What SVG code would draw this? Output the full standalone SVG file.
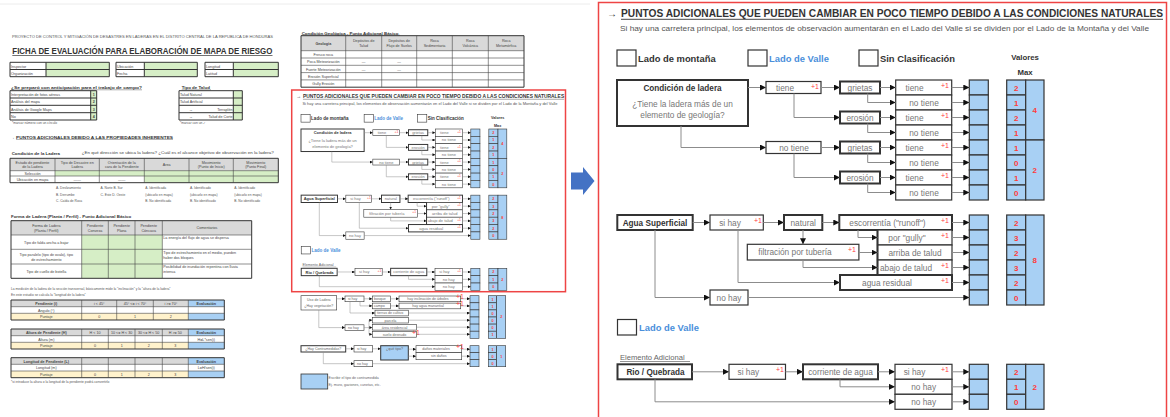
<svg xmlns="http://www.w3.org/2000/svg" xmlns:xlink="http://www.w3.org/1999/xlink" width="1170" height="417" viewBox="0 0 1170 417">
<defs>
<marker id="ah" viewBox="0 0 8 8" refX="8" refY="4" markerWidth="6" markerHeight="6" markerUnits="userSpaceOnUse" orient="auto"><path d="M0,0 L8,4 L0,8z" fill="#111"/></marker>
<marker id="ahs" viewBox="0 0 8 8" refX="8" refY="4" markerWidth="3" markerHeight="3" markerUnits="userSpaceOnUse" orient="auto"><path d="M0,0 L8,4 L0,8z" fill="#111"/></marker>
</defs>
<style>
.f{font-family:"Liberation Sans",Arial,sans-serif}
.b{font-weight:bold}
.c{text-anchor:middle}
.e{text-anchor:end}
.lbl{font-family:"Liberation Sans",Arial,sans-serif;font-size:8.3px;fill:#777}
.blbl{font-family:"Liberation Sans",Arial,sans-serif;font-size:8.2px;font-weight:bold;fill:#333}
.p1{font-family:"Liberation Sans",Arial,sans-serif;font-size:7px;fill:#ff3b3b}
.val{font-family:"Liberation Sans",Arial,sans-serif;font-size:8px;font-weight:bold;fill:#ff3b3b;text-anchor:middle}
.bx{fill:#fff;stroke:#333;stroke-width:1.2}
.bxt{fill:#fff;stroke:#333;stroke-width:2}
.blue{fill:#a8d0f4;stroke:#333;stroke-width:1.2}
.ln{fill:none;stroke:#8c8c8c;stroke-width:1;marker-end:url(#ah)}
.lns{fill:none;stroke:#8c8c8c;stroke-width:0.5;marker-end:url(#ahs)}
.d{font-family:"Liberation Sans",Arial,sans-serif;font-size:3.7px;fill:#444}
.ds{font-family:"Liberation Sans",Arial,sans-serif;font-size:3.3px;fill:#555}
.db{font-family:"Liberation Sans",Arial,sans-serif;font-size:4.4px;font-weight:bold;fill:#333}
.tb{fill:none;stroke:#444;stroke-width:0.6}
.tbt{fill:none;stroke:#333;stroke-width:1}
.grn{fill:#d6eec6}
.gry{fill:#d9d9d9}
.yel{fill:#fff2cc}
.lb{fill:#a8d0f4}
.sb{fill:#fff;stroke:#333;stroke-width:0.6}
.sbt{fill:#fff;stroke:#333;stroke-width:1}
.sbl{fill:#a8d0f4;stroke:#333;stroke-width:0.6}
.mv{font-family:"Liberation Sans",Arial,sans-serif;font-size:3.8px;font-weight:bold;fill:#ff3b3b;text-anchor:middle}
.ml{font-family:"Liberation Sans",Arial,sans-serif;font-size:3.6px;fill:#666}
.red{fill:none;stroke:#ee4444;stroke-width:1.5}
</style>
<rect width="1170" height="417" fill="#fff"/>
<line x1="0" y1="4" x2="590" y2="4" stroke="#ececec" stroke-width="1"/>

<!-- ============ LEFT DOCUMENT ============ -->
<g id="doc-header">
<text class="ds" x="12" y="38" textLength="261" lengthAdjust="spacingAndGlyphs">PROYECTO DE CONTROL Y MITIGACIÓN DE DESASTRES EN LADERAS EN EL DISTRITO CENTRAL DE LA REPÚBLICA DE HONDURAS</text>
<text class="f b" x="12.3" y="53.5" font-size="8.2" fill="#333" textLength="260" lengthAdjust="spacingAndGlyphs">FICHA DE EVALUACIÓN PARA ELABORACIÓN DE MAPA DE RIESGO</text>
<line x1="12.3" y1="55.5" x2="272.5" y2="55.5" stroke="#333" stroke-width="0.7"/>
</g>

<g id="info-1">
<rect class="grn" x="46" y="62.3" width="63.3" height="14.4"/>
<path class="tbt" d="M10 62.3H109.3V76.7H10Z M10 69.5H109.3 M46 62.3V76.7"/>
<text class="d" x="11" y="67.8">Inspector</text><text class="d" x="11" y="75">Organización</text>
</g>
<g id="info-2">
<rect class="grn" x="144.3" y="62.3" width="53" height="14.4"/>
<path class="tbt" d="M116 62.3H197.3V76.7H116Z M116 69.5H197.3 M144.3 62.3V76.7"/>
<text class="d" x="117" y="67.8">Ubicación</text><text class="d" x="117" y="75">Fecha</text>
</g>
<g id="info-3">
<rect class="grn" x="233.3" y="62.3" width="45" height="14.4"/>
<path class="tbt" d="M205 62.3H278.3V76.7H205Z M205 69.5H278.3 M233.3 62.3V76.7"/>
<text class="d" x="206" y="67.8">Longitud</text><text class="d" x="206" y="75">Latitud</text>
</g>

<g id="tabla-preparacion">
<text class="db" x="11" y="89" textLength="131" lengthAdjust="spacingAndGlyphs">¿Se preparó con anticipación para el trabajo de campo?</text>
<line x1="11" y1="89.8" x2="142" y2="89.8" stroke="#333" stroke-width="0.4"/>
<rect class="grn" x="90.7" y="90.7" width="6" height="29.3"/>
<path class="tbt" d="M10 90.7H96.7V120H10Z M10 98H96.7 M10 105.3H96.7 M10 112.7H96.7 M90.7 90.7V120"/>
<text class="d" x="11" y="96">Interpretación de fotos aéreas</text>
<text class="d" x="11" y="103.3">Análisis del mapa</text>
<text class="d" x="11" y="110.6">Análisis de Google Maps</text>
<text class="d" x="11" y="118">No</text>
<text class="d b c" x="93.7" y="96">1</text><text class="d b c" x="93.7" y="103.3">2</text><text class="d b c" x="93.7" y="110.6">3</text><text class="d b c" x="93.7" y="118">4</text>
<text class="ds" x="12" y="123.8">*marcar número con un círculo</text>
</g>

<g id="tabla-talud">
<text class="db" x="181.7" y="89">Tipo de Talud</text>
<line x1="181.7" y1="89.8" x2="211" y2="89.8" stroke="#333" stroke-width="0.4"/>
<rect class="grn" x="233.3" y="90.7" width="9" height="29.3"/>
<path class="tbt" d="M179 90.7H242.3V120H179Z M179 98H242.3 M179 105.3H242.3 M179 112.7H242.3 M233.3 90.7V120"/>
<text class="d" x="180" y="96">Talud Natural</text>
<text class="d" x="180" y="103.3">Talud Artificial</text>
<text class="d" x="189" y="110.6">→</text><text class="d e" x="232.5" y="110.6">Terraplén</text>
<text class="d" x="189" y="118">→</text><text class="d e" x="232.5" y="118">Talud de Corte</text>
<text class="ds" x="180" y="123.8">*marcar con un ✓</text>
</g>

<g id="titulo-inherentes">
<text class="db" x="10" y="138.5" textLength="163" lengthAdjust="spacingAndGlyphs">→ PUNTOS ADICIONALES DEBIDO A LAS PROPIEDADES INHERENTES</text>
<line x1="16" y1="139.4" x2="173" y2="139.4" stroke="#333" stroke-width="0.4"/>
</g>

<g id="tabla-condicion">
<text class="db" x="11.7" y="154.5">Condición de la Ladera</text>
<text class="d" x="81.7" y="154.3" textLength="192" lengthAdjust="spacingAndGlyphs">¿En qué dirección se ubica la ladera? ¿Cuál es el alcance objetivo de observación en la ladera?</text>
<rect class="gry" x="10" y="158.3" width="268.3" height="12.4"/>
<rect class="grn" x="55" y="170.7" width="223.3" height="5.3"/>
<rect class="grn" x="144.3" y="176" width="134" height="6.7"/>
<path class="tbt" d="M10 158.3H278.3V182.7H10Z"/>
<path class="tb" d="M10 170.7H278.3 M10 176H278.3 M55 158.3V182.7 M99.3 158.3V182.7 M144.3 158.3V182.7 M189 158.3V182.7 M233.3 158.3V182.7"/>
<text class="d c" x="32.5" y="163.8">Estado de pendiente</text><text class="d c" x="32.5" y="168.4">de la Ladera</text>
<text class="d c" x="77.2" y="163.8">Tipo de Desastre en</text><text class="d c" x="77.2" y="168.4">Ladera</text>
<text class="d c" x="121.8" y="163.8">Orientación de la</text><text class="d c" x="121.8" y="168.4">cara de la Pendiente</text>
<text class="d c" x="166.7" y="166">Área</text>
<text class="d c" x="211.2" y="163.8">Movimiento</text><text class="d c" x="211.2" y="168.4">(Punto de Inicio)</text>
<text class="d c" x="255.8" y="163.8">Movimiento</text><text class="d c" x="255.8" y="168.4">(Punto Final)</text>
<text class="d c" x="32.5" y="174.8">Selección</text>
<text class="d c" x="32.5" y="180.8">Ubicación en mapa</text>
<text class="d c" x="77.2" y="180.8">——</text><text class="d c" x="121.8" y="180.8">——</text>
<g class="ds">
<text x="56" y="189.3">A. Deslizamiento</text><text x="56" y="195.6">B. Derrumbe</text><text x="56" y="202">C. Caída de Roca</text>
<text x="100.5" y="189.3">A. Norte  B. Sur</text><text x="100.5" y="195.6">C. Este   D. Oeste</text>
<text x="145.3" y="189.3">A. Identificada</text><text x="145.3" y="195.6">(ubicarlo en mapa)</text><text x="145.3" y="202">B. No identificada</text>
<text x="190" y="189.3">A. Identificado</text><text x="190" y="195.6">(ubicarlo en mapa)</text><text x="190" y="202">B. No identificado</text>
<text x="234.3" y="189.3">A. Identificado</text><text x="234.3" y="195.6">(ubicarlo en mapa)</text><text x="234.3" y="202">B. No identificado</text>
</g>
</g>

<g id="tabla-forma">
<text class="db" x="11" y="218">Forma de Ladera (Planta / Perfil) - Punto Adicional Básico</text>
<rect class="gry" x="11" y="220.7" width="240.7" height="14.3"/>
<rect class="grn" x="81.7" y="235" width="80.6" height="43.3"/>
<path class="tbt" d="M11 220.7H251.7V278.3H11Z"/>
<path class="tb" d="M11 235H251.7 M11 249.3H251.7 M11 264H251.7 M81.7 220.7V278.3 M108.3 220.7V278.3 M135 220.7V278.3 M162.3 220.7V278.3"/>
<text class="d c" x="46.3" y="226.5">Forma de Ladera</text><text class="d c" x="46.3" y="232">(Planta / Perfil)</text>
<text class="d c" x="95" y="226.5">Pendiente</text><text class="d c" x="95" y="232">Convexa</text>
<text class="d c" x="121.7" y="226.5">Pendiente</text><text class="d c" x="121.7" y="232">Plana</text>
<text class="d c" x="148.7" y="226.5">Pendiente</text><text class="d c" x="148.7" y="232">Cóncava</text>
<text class="d c" x="207" y="229.3">Comentarios</text>
<text class="d c" x="46.3" y="243.5">Tipo de falda ancha a bajar</text>
<text class="d c" x="46.3" y="255.5">Tipo paralelo (tipo de ovalo), tipo</text><text class="d c" x="46.3" y="260.5">de estrechamiento</text>
<text class="d c" x="46.3" y="272.5">Tipo de cuello de botella</text>
<text class="d" x="163.3" y="239">La energía del flujo de agua se dispersa</text>
<text class="d" x="163.3" y="253.5">Tipo de estrechamiento en el medio, pueden</text><text class="d" x="163.3" y="258.5">haber dos bloques</text>
<text class="d" x="163.3" y="268">Posibilidad de inundación repentina con lluvia</text><text class="d" x="163.3" y="273">intensa</text>
</g>

<g id="nota-medicion">
<text class="ds" x="11" y="289.5">La medición de la ladera de la sección transversal, básicamente mide la "inclinación" y la "altura de la ladera"</text>
<text class="ds" x="11" y="295.5">En este estudio se calcula la "longitud de la ladera"</text>
</g>

<g id="tabla-pendiente">
<rect class="gry" x="11" y="300" width="177.3" height="6.7"/>
<rect class="lb" x="188.3" y="300" width="36" height="6.7"/>
<rect class="yel" x="11" y="313.3" width="177.3" height="6.7"/>
<rect class="lb" x="188.3" y="313.3" width="36" height="6.7"/>
<path class="tbt" d="M11 300H224.3V320H11Z"/>
<path class="tb" d="M11 306.7H224.3 M11 313.3H224.3 M81.7 300V320 M116.7 300V320 M153.3 300V320 M188.3 300V320"/>
<text class="d b c" x="46.3" y="305">Pendiente (i)</text>
<text class="d c" x="99.2" y="305">i &lt; 45°</text><text class="d c" x="135" y="305">45° &lt;= i &lt; 70°</text><text class="d c" x="170.8" y="305">i &gt;= 70°</text>
<text class="d b c" x="206.3" y="305">Evaluación</text>
<text class="d c" x="46.3" y="311.7">Ángulo (°)</text>
<text class="d c" x="46.3" y="318.3">Puntaje</text>
<text class="d c" x="99.2" y="318.3">0</text><text class="d c" x="135" y="318.3">1</text><text class="d c" x="170.8" y="318.3">2</text>
</g>

<g id="tabla-altura">
<rect class="gry" x="11" y="329" width="177.3" height="6.7"/>
<rect class="lb" x="188.3" y="329" width="36" height="6.7"/>
<rect class="yel" x="11" y="342.3" width="177.3" height="6.7"/>
<rect class="lb" x="188.3" y="342.3" width="36" height="6.7"/>
<path class="tbt" d="M11 329H224.3V349H11Z"/>
<path class="tb" d="M11 335.7H224.3 M11 342.3H224.3 M81.7 329V349 M108.3 329V349 M135 329V349 M162.3 329V349 M188.3 329V349"/>
<text class="d b c" x="46.3" y="334">Altura de Pendiente (H)</text>
<text class="d c" x="95" y="334">H &lt; 10</text><text class="d c" x="121.7" y="334">10 &lt;= H &lt; 30</text><text class="d c" x="148.7" y="334">30 &lt;= H &lt; 50</text><text class="d c" x="175.3" y="334">H &gt;= 50</text>
<text class="d b c" x="206.3" y="334">Evaluación</text>
<text class="d c" x="46.3" y="340.7">Altura (m)</text><text class="d c" x="206.3" y="340.7">H=L*sen(i)</text>
<text class="d c" x="46.3" y="347.3">Puntaje</text>
<text class="d c" x="95" y="347.3">0</text><text class="d c" x="121.7" y="347.3">1</text><text class="d c" x="148.7" y="347.3">2</text><text class="d c" x="175.3" y="347.3">3</text>
</g>

<g id="tabla-longitud">
<rect class="gry" x="11" y="357.7" width="177.3" height="6.6"/>
<rect class="lb" x="188.3" y="357.7" width="36" height="6.6"/>
<rect class="yel" x="11" y="371" width="177.3" height="6.7"/>
<rect class="lb" x="188.3" y="371" width="36" height="6.7"/>
<path class="tbt" d="M11 357.7H224.3V377.7H11Z"/>
<path class="tb" d="M11 364.3H224.3 M11 371H224.3 M81.7 357.7V377.7 M108.3 357.7V377.7 M135 357.7V377.7 M162.3 357.7V377.7 M188.3 357.7V377.7"/>
<text class="d b c" x="46.3" y="362.6">Longitud de Pendiente (L)</text>
<text class="d b c" x="206.3" y="362.6">Evaluación</text>
<text class="d c" x="46.3" y="369.3">Longitud (m)</text><text class="d c" x="206.3" y="369.3">L=H/sen(i)</text>
<text class="d c" x="46.3" y="376">Puntaje</text>
<text class="d c" x="95" y="376">0</text><text class="d c" x="121.7" y="376">1</text><text class="d c" x="148.7" y="376">2</text><text class="d c" x="175.3" y="376">3</text>
<text class="ds" x="11" y="383.2">*si introduce la altura o la longitud de la pendiente podrá convertirlo</text>
</g>

<g id="tabla-geologia">
<text class="db" x="301.7" y="34.5">Condición Geológica - Punto Adicional Básico</text>
<line x1="301.7" y1="35.2" x2="400" y2="35.2" stroke="#333" stroke-width="0.4"/>
<rect class="gry" x="301" y="35.7" width="223" height="15"/>
<path class="tbt" d="M301 35.7H524V87.2H301Z"/>
<path class="tb" d="M301 50.7H524 M301 58H524 M301 65.3H524 M301 72.6H524 M301 79.9H524 M345.7 35.7V87.2 M381.7 35.7V87.2 M416.7 35.7V87.2 M452.3 35.7V87.2 M488.3 35.7V87.2"/>
<text class="d b c" x="323.3" y="44.5">Geología</text>
<text class="d c" x="363.7" y="41.8">Depósitos de</text><text class="d c" x="363.7" y="47">Talud</text>
<text class="d c" x="399.2" y="41.8">Depósitos de</text><text class="d c" x="399.2" y="47">Flujo de Suelos</text>
<text class="d c" x="434.5" y="41.8">Roca</text><text class="d c" x="434.5" y="47">Sedimentaria</text>
<text class="d c" x="470.3" y="41.8">Roca</text><text class="d c" x="470.3" y="47">Volcánica</text>
<text class="d c" x="506.2" y="41.8">Roca</text><text class="d c" x="506.2" y="47">Metamórfica</text>
<text class="d c" x="323.3" y="56">Fresco roca</text>
<text class="d c" x="323.3" y="63.3">Poca Meteorización</text>
<text class="d c" x="323.3" y="70.6">Fuerte Meteorización</text>
<text class="d c" x="323.3" y="77.9">Erosión Superficial</text>
<text class="d c" x="323.3" y="85.2">Gully Erosión</text>
<text class="d c" x="363.7" y="63.3">—</text><text class="d c" x="399.2" y="63.3">—</text>
<text class="d c" x="363.7" y="70.6">—</text><text class="d c" x="399.2" y="70.6">—</text>
</g>

<!-- mini copy of the detailed panel -->
<use id="panel-miniatura" xlink:href="#rpanel" href="#rpanel" transform="matrix(0.482,0,0,0.49,3.6,89.8)"/>
<rect id="recuadro-rojo-mini" class="red" x="291.7" y="90" width="273.8" height="201.7"/>

<g id="uso-ladera">
<g id="n-uso"><rect class="sb" x="301" y="295.7" width="35.7" height="14.3"/><text class="ml c" x="318.8" y="300.5">Uso de Ladera</text><text class="ml c" x="318.8" y="307.3">¿Hay vegetación?</text></g>
<g id="n-uso-si"><rect class="sb" x="345" y="296" width="19" height="5.7"/><text class="ml" x="348" y="300.2">si hay</text></g>
<g id="n-uso-no"><rect class="sb" x="345" y="324.8" width="19" height="5.7"/><text class="ml" x="348" y="329">no hay</text></g>
<g id="n-bosque"><rect class="sb" x="372.3" y="296" width="18.4" height="5.7"/><text class="ml" x="374" y="300.2">bosque</text></g>
<g id="n-campo"><rect class="sb" x="372.3" y="303.1" width="18.4" height="5.7"/><text class="ml" x="374" y="307.3">campo</text></g>
<g id="n-cultivo"><rect class="sb" x="375" y="310.2" width="33.3" height="5.7"/><text class="ml" x="377" y="314.4">tierras de cultivo</text></g>
<g id="n-parcela"><rect class="sb" x="372.3" y="317.3" width="36" height="5.7"/><text class="ml c" x="390.3" y="321.5">parcela</text></g>
<g id="n-residencial"><rect class="sb" x="372.3" y="324.4" width="44.4" height="5.7"/><text class="ml c" x="394.5" y="328.6">área residencial</text></g>
<g id="n-desnudo"><rect class="sb" x="372.3" y="331.5" width="44.4" height="5.7"/><text class="ml c" x="394.5" y="335.7">suelo desnudo</text><text class="p1" x="412" y="334.5" font-size="3.4">+1</text></g>
<g id="n-inclinacion"><rect class="sb" x="399" y="296" width="61.7" height="5.7"/><text class="ml c" x="428" y="300.2">hay inclinación de árboles</text><text class="p1" x="456" y="299" font-size="3.4">+1</text></g>
<g id="n-manantial"><rect class="sb" x="399" y="303.1" width="61.7" height="5.7"/><text class="ml c" x="428" y="307.3">hay agua manantial</text><text class="p1" x="456" y="306.1" font-size="3.4">+1</text></g>
<g id="v-uso">
<rect class="sbl" x="470" y="295.7" width="9" height="7.1"/><rect class="sbl" x="470" y="302.8" width="9" height="7.1"/><rect class="sbl" x="470" y="309.9" width="9" height="7.1"/><rect class="sbl" x="470" y="317" width="9" height="7.1"/><rect class="sbl" x="470" y="324.1" width="9" height="7.1"/><rect class="sbl" x="470" y="331.2" width="9" height="7.1"/>
<rect class="sbl" x="488.3" y="295.7" width="8.4" height="7.1"/><rect class="sbl" x="488.3" y="302.8" width="8.4" height="7.1"/><rect class="sbl" x="488.3" y="309.9" width="8.4" height="7.1"/><rect class="sbl" x="488.3" y="317" width="8.4" height="7.1"/><rect class="sbl" x="488.3" y="324.1" width="8.4" height="7.1"/><rect class="sbl" x="488.3" y="331.2" width="8.4" height="7.1"/>
<rect class="sbl" x="496.7" y="295.7" width="9" height="42.6"/>
<text class="mv" x="492.5" y="300.6">1</text><text class="mv" x="492.5" y="307.7">1</text><text class="mv" x="492.5" y="314.8">0</text><text class="mv" x="492.5" y="321.9">0</text><text class="mv" x="492.5" y="329">0</text><text class="mv" x="492.5" y="336.1">1</text>
<text class="mv" x="501.2" y="318.3">2</text>
</g>
</g>

<g id="contramedidas">
<g id="n-contra"><rect class="sbt" x="301" y="345.7" width="44.7" height="6.3"/><text class="ml c" x="323.3" y="350">¿Hay Contramedidas?</text></g>
<g id="n-contra-si"><rect class="sb" x="354" y="345.7" width="18.7" height="6.3"/><text class="ml" x="357" y="350">si hay</text></g>
<g id="n-tipo"><rect x="380.7" y="345.7" width="27.6" height="14.3" fill="#a8d0f4" stroke="#333" stroke-width="1"/><text class="ml c" x="394.5" y="350" fill="#333">¿qué tipo?</text></g>
<g id="n-danos"><rect class="sb" x="416" y="345.7" width="45.7" height="7"/><text class="ml c" x="436" y="350.3">daños materiales</text><text class="p1" x="456" y="349" font-size="3.4">+1</text></g>
<g id="n-sindanos"><rect class="sb" x="416" y="352.7" width="45.7" height="7"/><text class="ml c" x="438.8" y="357.3">sin daños</text></g>
<g id="n-contra-no"><rect class="sb" x="354" y="360.7" width="18.7" height="6"/><text class="ml" x="357" y="364.9">no hay</text></g>
<g id="v-contra">
<rect class="sbl" x="470" y="345.7" width="9" height="7"/><rect class="sbl" x="470" y="352.7" width="9" height="7"/><rect class="sbl" x="470" y="359.7" width="9" height="7"/>
<rect class="sbl" x="488.3" y="345.7" width="8.4" height="7"/><rect class="sbl" x="488.3" y="352.7" width="8.4" height="7"/><rect class="sbl" x="488.3" y="359.7" width="8.4" height="7"/>
<rect class="sbl" x="496.7" y="345.7" width="9" height="21"/>
<text class="mv" x="492.5" y="350.5">1</text><text class="mv" x="492.5" y="357.5">0</text><text class="mv" x="492.5" y="364.5">0</text>
<text class="mv" x="501.2" y="357.5">1</text>
</g>
</g>

<g id="leyenda-contramedida">
<rect x="301" y="374" width="26.7" height="15" fill="#a8d0f4" stroke="#333" stroke-width="0.8"/>
<text class="ml" x="328.5" y="378.8">Escribir el tipo de contramedida</text>
<text class="ml" x="328.5" y="386.2">Ej. muro, gaviones, cunetas, etc.</text>
</g>

<g id="connectors-mini">
<path class="lns" d="M336.7 298.8H345"/>
<path class="lns" d="M364 298.8H372.3"/>
<path class="lns" d="M360 301.7V305.9H372.3"/>
<path class="lns" d="M350 301.7V313H375"/>
<path class="lns" d="M318.8 310V327.6H345"/>
<path class="lns" d="M364 327.6H372.3"/>
<path class="lns" d="M369 327.6V320.2H372.3"/>
<path class="lns" d="M369 327.6V334.3H372.3"/>
<path class="lns" d="M390.7 298.8H399"/>
<path class="lns" d="M390.7 305.9H399"/>
<path class="lns" d="M460.7 298.8H470"/><path class="lns" d="M460.7 305.9H470"/><path class="lns" d="M408.3 313H470"/><path class="lns" d="M408.3 320.2H470"/><path class="lns" d="M416.7 327.2H470"/><path class="lns" d="M416.7 334.3H470"/>
<path class="lns" d="M345.7 348.8H354"/>
<path class="lns" d="M372.7 348.8H380.7"/>
<path class="lns" d="M408.3 349.2H416"/>
<path class="lns" d="M408.3 356.2H416"/>
<path class="lns" d="M461.7 349.2H470"/><path class="lns" d="M461.7 356.2H470"/>
<path class="lns" d="M323.3 352V363.7H354"/>
<path class="lns" d="M372.7 363.7H470"/>
</g>

<!-- blue arrow -->
<polygon id="flecha-azul" points="571,172.5 583,172.5 583,167 594.5,181 583,195 583,189.5 571,189.5" fill="#4472c4"/>

<!-- ============ DETAILED PANEL ============ -->
<rect id="recuadro-rojo" class="red" x="598.5" y="2.5" width="568" height="430"/>
<g id="rpanel">
<g id="titulo">
<text class="f b" x="607" y="17" font-size="10" fill="#333">→</text>
<text class="f b" x="621" y="17" font-size="10" fill="#333" textLength="542" lengthAdjust="spacingAndGlyphs">PUNTOS ADICIONALES QUE PUEDEN CAMBIAR EN POCO TIEMPO DEBIDO A LAS CONDICIONES NATURALES</text>
<line x1="621" y1="19.3" x2="1163" y2="19.3" stroke="#333" stroke-width="0.9"/>
<text class="f" x="620" y="31" font-size="8" fill="#555" textLength="529" lengthAdjust="spacingAndGlyphs">Si hay una carretera principal, los elementos de observación aumentarán en el Lado del Valle si se dividen por el Lado de la Montaña y del Valle</text>
</g>
<g id="leg-montana"><rect class="bx" x="617" y="50" width="19" height="16"/><text class="f b" x="638" y="62" font-size="9.4" fill="#333">Lado de montaña</text></g>
<g id="leg-valle"><rect class="bx" x="748" y="50" width="19" height="16"/><text class="f b" x="769" y="62" font-size="9.4" fill="#4a8fdb">Lado de Valle</text></g>
<g id="leg-sin"><rect class="bx" x="859" y="50" width="19" height="16"/><text class="f b" x="880" y="62" font-size="9.4" fill="#333">Sin Clasificación</text></g>
<g id="hdr-valores"><text class="f b c" x="1025" y="60" font-size="7.8" fill="#333">Valores</text><text class="f b c" x="1025" y="75" font-size="7.8" fill="#333">Max</text></g>

<g id="n-condicion"><rect class="bxt" x="617" y="80" width="131" height="46"/>
<text class="blbl c" x="682.5" y="91">Condición de ladera</text>
<text class="lbl c" x="682.5" y="107">¿Tiene la ladera más de un</text>
<text class="lbl c" x="682.5" y="118">elemento de geología?</text></g>
<g id="n-tiene"><rect class="bx" x="766" y="81.5" width="55" height="12"/><text class="lbl c" x="785" y="90.8">tiene</text><text class="p1" x="811" y="88.5">+1</text></g>
<g id="n-notiene"><rect class="bx" x="766" y="141.5" width="55" height="12"/><text class="lbl c" x="794" y="150.8">no tiene</text></g>
<g id="n-grietas1"><rect class="bxt" x="840" y="81.5" width="40" height="12"/><text class="lbl c" x="860" y="90.8">grietas</text></g>
<g id="n-erosion1"><rect class="bxt" x="840" y="111.5" width="40" height="12"/><text class="lbl c" x="860" y="120.8">erosión</text></g>
<g id="n-grietas2"><rect class="bxt" x="840" y="141.5" width="40" height="12"/><text class="lbl c" x="860" y="150.8">grietas</text></g>
<g id="n-erosion2"><rect class="bxt" x="840" y="171.5" width="40" height="12"/><text class="lbl c" x="860" y="180.8">erosión</text></g>

<g id="n-opciones-ladera">
<rect class="bx" x="895.7" y="80" width="56" height="15"/><text class="lbl c" x="914.5" y="90.5">tiene</text><text class="p1" x="941" y="88">+1</text>
<rect class="bx" x="895.7" y="95" width="56" height="15"/><text class="lbl c" x="924" y="105.5">no tiene</text>
<rect class="bx" x="895.7" y="110" width="56" height="15"/><text class="lbl c" x="914.5" y="120.5">tiene</text><text class="p1" x="941" y="118">+1</text>
<rect class="bx" x="895.7" y="125" width="56" height="15"/><text class="lbl c" x="924" y="135.5">no tiene</text>
<rect class="bx" x="895.7" y="140" width="56" height="15"/><text class="lbl c" x="914.5" y="150.5">tiene</text><text class="p1" x="941" y="148">+1</text>
<rect class="bx" x="895.7" y="155" width="56" height="15"/><text class="lbl c" x="924" y="165.5">no tiene</text>
<rect class="bx" x="895.7" y="170" width="56" height="15"/><text class="lbl c" x="914.5" y="180.5">tiene</text><text class="p1" x="941" y="178">+1</text>
<rect class="bx" x="895.7" y="185" width="56" height="15"/><text class="lbl c" x="924" y="195.5">no tiene</text>
</g>
<g id="celdas-ladera">
<rect class="blue" x="969.3" y="80" width="19" height="15"/><rect class="blue" x="969.3" y="95" width="19" height="15"/><rect class="blue" x="969.3" y="110" width="19" height="15"/><rect class="blue" x="969.3" y="125" width="19" height="15"/><rect class="blue" x="969.3" y="140" width="19" height="15"/><rect class="blue" x="969.3" y="155" width="19" height="15"/><rect class="blue" x="969.3" y="170" width="19" height="15"/><rect class="blue" x="969.3" y="185" width="19" height="15"/>
</g>
<g id="valores-ladera">
<rect class="blue" x="1006.7" y="80" width="19" height="15"/><rect class="blue" x="1006.7" y="95" width="19" height="15"/><rect class="blue" x="1006.7" y="110" width="19" height="15"/><rect class="blue" x="1006.7" y="125" width="19" height="15"/><rect class="blue" x="1006.7" y="140" width="19" height="15"/><rect class="blue" x="1006.7" y="155" width="19" height="15"/><rect class="blue" x="1006.7" y="170" width="19" height="15"/><rect class="blue" x="1006.7" y="185" width="19" height="15"/>
<rect class="blue" x="1025.7" y="80" width="18.3" height="60"/><rect class="blue" x="1025.7" y="140" width="18.3" height="60"/>
<text class="val" x="1016.2" y="90.5">2</text><text class="val" x="1016.2" y="105.5">1</text><text class="val" x="1016.2" y="120.5">2</text><text class="val" x="1016.2" y="135.5">1</text><text class="val" x="1016.2" y="150.5">1</text><text class="val" x="1016.2" y="165.5">0</text><text class="val" x="1016.2" y="180.5">1</text><text class="val" x="1016.2" y="195.5">0</text>
<text class="val" x="1034.8" y="113">4</text><text class="val" x="1034.8" y="173">2</text>
</g>

<g id="n-agua"><rect class="bxt" x="617.3" y="215" width="75.4" height="15"/><text class="blbl c" x="655" y="225.5">Agua Superficial</text></g>
<g id="n-agua-si"><rect class="bx" x="710" y="215" width="53.3" height="15"/><text class="lbl c" x="730" y="225.5">si hay</text><text class="p1" x="754" y="222.5">+1</text></g>
<g id="n-natural"><rect class="bxt" x="784" y="215" width="38.3" height="15"/><text class="lbl c" x="803.2" y="225.5">natural</text></g>
<g id="n-escorrentia"><rect class="bxt" x="839.3" y="215" width="112.7" height="15"/><text class="lbl c" x="887.5" y="225.5">escorrentía ("runoff")</text><text class="p1" x="941" y="222.5">+1</text></g>
<g id="n-subopciones">
<rect class="bx" x="877.5" y="230" width="74.5" height="15"/><text class="lbl c" x="907" y="240.5">por "gully"</text><text class="p1" x="941" y="237.5">+1</text>
<rect class="bx" x="877.5" y="245" width="74.5" height="15"/><text class="lbl c" x="915" y="255.5">arriba de talud</text>
<rect class="bx" x="877.5" y="260" width="74.5" height="15"/><text class="lbl c" x="906" y="270.5">abajo de talud</text><text class="p1" x="941" y="267.5">+1</text>
<path d="M877.5 230V275" stroke="#333" stroke-width="2"/>
</g>
<g id="n-filtracion"><rect class="bx" x="747.3" y="244.3" width="111.6" height="15.7"/><text class="lbl c" x="795" y="255">filtración por tubería</text><text class="p1" x="848" y="252">+1</text></g>
<g id="n-residual"><rect class="bxt" x="840" y="275" width="112" height="15"/><text class="lbl c" x="887" y="285.5">agua residual</text><text class="p1" x="941" y="282.5">+1</text></g>
<g id="n-agua-no"><rect class="bx" x="710" y="290" width="38" height="15"/><text class="lbl c" x="729" y="300.5">no hay</text></g>
<g id="celdas-agua">
<rect class="blue" x="969.3" y="215" width="19" height="15"/><rect class="blue" x="969.3" y="230" width="19" height="15"/><rect class="blue" x="969.3" y="245" width="19" height="15"/><rect class="blue" x="969.3" y="260" width="19" height="15"/><rect class="blue" x="969.3" y="275" width="19" height="15"/><rect class="blue" x="969.3" y="290" width="19" height="15"/>
</g>
<g id="valores-agua">
<rect class="blue" x="1006.7" y="215" width="19" height="15"/><rect class="blue" x="1006.7" y="230" width="19" height="15"/><rect class="blue" x="1006.7" y="245" width="19" height="15"/><rect class="blue" x="1006.7" y="260" width="19" height="15"/><rect class="blue" x="1006.7" y="275" width="19" height="15"/><rect class="blue" x="1006.7" y="290" width="19" height="15"/>
<rect class="blue" x="1025.7" y="215" width="18.3" height="90"/>
<text class="val" x="1016.2" y="225.5">2</text><text class="val" x="1016.2" y="240.5">3</text><text class="val" x="1016.2" y="255.5">2</text><text class="val" x="1016.2" y="270.5">3</text><text class="val" x="1016.2" y="285.5">2</text><text class="val" x="1016.2" y="300.5">0</text>
<text class="val" x="1034.8" y="263">8</text>
</g>

<g id="leg-valle-2"><rect class="bx" x="617.5" y="319.5" width="19" height="15.5"/><text class="f b" x="639" y="331" font-size="9.4" fill="#4a8fdb">Lado de Valle</text></g>
<g id="elemento-adicional"><text class="f" x="620" y="360" font-size="7.6" fill="#666">Elemento Adicional</text><line x1="620" y1="361.5" x2="690" y2="361.5" stroke="#666" stroke-width="0.7"/></g>

<g id="n-rio"><rect class="bxt" x="617.5" y="364.3" width="74.5" height="15"/><text class="blbl c" x="655.5" y="375">Rio / Quebrada</text></g>
<g id="n-rio-si"><rect class="bx" x="729" y="364.3" width="56.5" height="15"/><text class="lbl c" x="748.4" y="374.8">si hay</text><text class="p1" x="776" y="371.8">+1</text></g>
<g id="n-corriente"><rect class="bxt" x="803" y="364.3" width="75" height="15"/><text class="lbl c" x="840.5" y="374.8">corriente de agua</text></g>
<g id="n-opciones-rio">
<rect class="bx" x="895" y="364.3" width="57" height="15"/><text class="lbl c" x="914.5" y="374.8">si hay</text><text class="p1" x="941" y="371.8">+1</text>
<rect class="bx" x="895" y="379.3" width="57" height="15"/><text class="lbl c" x="923.6" y="389.8">no hay</text>
<rect class="bx" x="895" y="394.3" width="57" height="15"/><text class="lbl c" x="923.6" y="404.8">no hay</text>
</g>
<g id="celdas-rio">
<rect class="blue" x="969.3" y="364.3" width="19" height="15"/><rect class="blue" x="969.3" y="379.3" width="19" height="15"/><rect class="blue" x="969.3" y="394.3" width="19" height="15"/>
</g>
<g id="valores-rio">
<rect class="blue" x="1006.7" y="364.3" width="19" height="15"/><rect class="blue" x="1006.7" y="379.3" width="19" height="15"/><rect class="blue" x="1006.7" y="394.3" width="19" height="15"/>
<rect class="blue" x="1025.7" y="364.3" width="18.3" height="45"/>
<text class="val" x="1016.2" y="374.8">2</text><text class="val" x="1016.2" y="389.8">1</text><text class="val" x="1016.2" y="404.8">0</text>
<text class="val" x="1034.8" y="389.8">2</text>
</g>

<g id="connectors">
<path class="ln" d="M748 87.5H766"/>
<path class="ln" d="M681 126V147.5H766"/>
<path class="ln" d="M821 87.5H840"/>
<path class="ln" d="M794 93.5V117.5H840"/>
<path class="ln" d="M821 147.5H840"/>
<path class="ln" d="M794 153.5V177.5H840"/>
<path class="ln" d="M880 87.5H895.7"/>
<path class="ln" d="M867.7 93.5V102.5H895.7"/>
<path class="ln" d="M880 117.5H895.7"/>
<path class="ln" d="M867.7 123.5V132.5H895.7"/>
<path class="ln" d="M880 147.5H895.7"/>
<path class="ln" d="M867.7 153.5V162.5H895.7"/>
<path class="ln" d="M880 177.5H895.7"/>
<path class="ln" d="M867.7 183.5V192.5H895.7"/>
<path class="ln" d="M951.7 87.5H969.3"/><path class="ln" d="M951.7 102.5H969.3"/><path class="ln" d="M951.7 117.5H969.3"/><path class="ln" d="M951.7 132.5H969.3"/><path class="ln" d="M951.7 147.5H969.3"/><path class="ln" d="M951.7 162.5H969.3"/><path class="ln" d="M951.7 177.5H969.3"/><path class="ln" d="M951.7 192.5H969.3"/>
<path class="ln" d="M692.7 222.5H710"/>
<path class="ln" d="M763.3 222.5H784"/>
<path class="ln" d="M822.3 222.5H839.3"/>
<path class="ln" d="M858 230V237.5H877.5"/>
<path class="ln" d="M803 230V244.3"/>
<path class="ln" d="M858.9 252.5H877.5"/>
<path class="ln" d="M803 260V267.5H877.5"/>
<path class="ln" d="M738 230V282.5H840"/>
<path class="ln" d="M655 230V297.5H710"/>
<path class="ln" d="M748 297.5H969.3"/>
<path class="ln" d="M952 222.5H969.3"/><path class="ln" d="M952 237.5H969.3"/><path class="ln" d="M952 252.5H969.3"/><path class="ln" d="M952 267.5H969.3"/><path class="ln" d="M952 282.5H969.3"/>
<path class="ln" d="M692 371.8H729"/>
<path class="ln" d="M785.5 371.8H803"/>
<path class="ln" d="M878 371.8H895"/>
<path class="ln" d="M840 379.3V386.8H895"/>
<path class="ln" d="M655 379.3V401.8H895"/>
<path class="ln" d="M952 371.8H969.3"/><path class="ln" d="M952 386.8H969.3"/><path class="ln" d="M952 401.8H969.3"/>
</g>
</g>
</svg>
